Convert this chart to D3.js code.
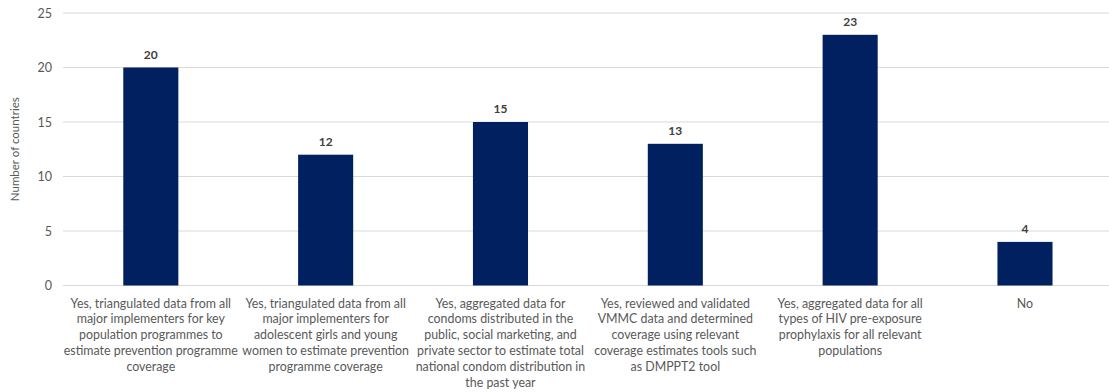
<!DOCTYPE html>
<html>
<head>
<meta charset="utf-8">
<title>Prevention coverage</title>
<script src="https://cdn.jsdelivr.net/npm/d3@7"></script>
<style>
html,body{margin:0;padding:0;background:#fff;}
svg{display:block;font-family:Lato,"Open Sans",sans-serif;}
</style>
</head>
<body>
<script>
// categories, one string per bar, "\n" marks the line breaks in the picture
var categories=[
	"Yes, triangulated data from all\nmajor implementers for key\npopulation programmes to\nestimate prevention programme\ncoverage",
	"Yes, triangulated data from all\nmajor implementers for\nadolescent girls and young\nwomen to estimate prevention\nprogramme coverage",
	"Yes, aggregated data for\ncondoms distributed in the\npublic, social marketing, and\nprivate sector to estimate total\nnational condom distribution in\nthe past year",
	"Yes, reviewed and validated\nVMMC data and determined\ncoverage using relevant\ncoverage estimates tools such\nas DMPPT2 tool",
	"Yes, aggregated data for all\ntypes of HIV pre-exposure\nprophylaxis for all relevant\npopulations",
	"No"
];
var values=[20,12,15,13,23,4];
var yTicks=[0,5,10,15,20,25];
var yTitle="Number of countries";

var W=1109,H=392;
var svg=d3.select("body").append("svg")
	.attr("width",W)
	.attr("height",H);

var x=d3.scaleBand()
	.domain(d3.range(values.length))
	.range([63.4,1112.4])
	.paddingInner(0.685)
	.paddingOuter(0.3425);

var y=d3.scaleLinear()
	.domain([0,25])
	.range([285.5,13]);

// gridlines
svg.append("g")
	.selectAll("line")
	.data(yTicks)
	.enter()
	.append("line")
	.attr("x1",63)
	.attr("x2",1109)
	.attr("y1",d=>y(d))
	.attr("y2",d=>y(d))
	.attr("stroke","#d9d9d9")
	.attr("stroke-width",1);

// y axis labels
var yAxis=d3.axisLeft(y).tickValues(yTicks).tickSize(0).tickPadding(11);
var gy=svg.append("g")
	.attr("transform","translate(63,0)")
	.call(yAxis);
gy.select(".domain").remove();
gy.selectAll("text")
	.attr("fill","#595959")
	.style("font-size","12.5px")
	.style("font-family","Lato,'Open Sans',sans-serif");

svg.append("text")
	.attr("transform","translate(19,"+y(12.5)+") rotate(-90)")
	.attr("text-anchor","middle")
	.attr("fill","#595959")
	.style("font-size","11.5px")
	.text(yTitle);

// bars
svg.selectAll(".bar")
	.data(values)
	.enter()
	.append("rect")
	.attr("class","bar")
	.attr("x",(d,i)=>x(i))
	.attr("y",d=>y(d))
	.attr("width",x.bandwidth())
	.attr("height",d=>y(0)-y(d))
	.attr("fill","#002060");

// value labels
svg.selectAll(".val")
	.data(values)
	.enter()
	.append("text")
	.attr("class","val")
	.attr("x",(d,i)=>x(i)+x.bandwidth()/2)
	.attr("y",d=>y(d)-9)
	.attr("text-anchor","middle")
	.attr("fill","#404040")
	.style("font-size","12px")
	.style("font-weight","bold")
	.text(d=>d);

// category labels
var cat=svg.selectAll(".cat")
	.data(categories)
	.enter()
	.append("text")
	.attr("class","cat")
	.attr("text-anchor","middle")
	.attr("fill","#595959")
	.style("font-size","12.4px");

cat.each(function(d,i){
	var t=d3.select(this);
	d.split("\n").forEach(function(line,j){
		t.append("tspan")
			.attr("x",x(i)+x.bandwidth()/2)
			.attr("y",307.5+j*15.8)
			.text(line);
	});
});
</script>
</body>
</html>
